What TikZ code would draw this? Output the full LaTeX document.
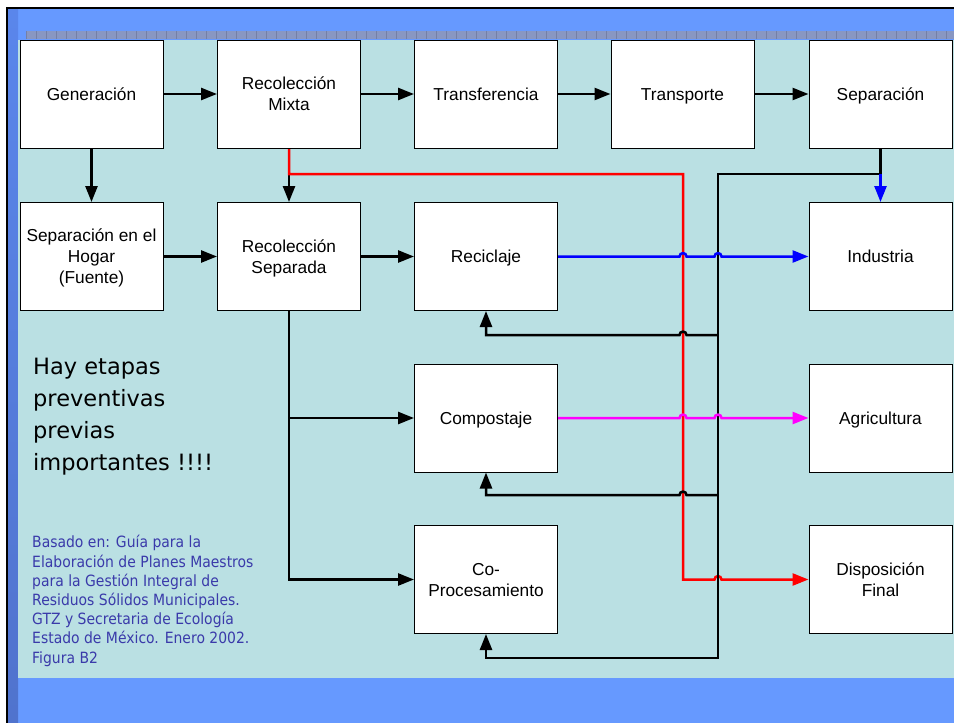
\documentclass[tikz,border=0pt]{standalone}
\usepackage{fontspec}
\setmainfont{Liberation Sans}
\newfontfamily\notafont{DejaVu Sans}
\newfontfamily\fuentefont[FakeStretch=0.9]{DejaVu Sans}
\usepackage{tikz}
\usetikzlibrary{arrows.meta}
\definecolor{slideblue}{RGB}{102,153,255}
\definecolor{panelcyan}{RGB}{186,224,227}
\definecolor{stripgray}{RGB}{137,151,194}
\definecolor{fuenteblue}{RGB}{58,58,170}
\definecolor{compmag}{RGB}{255,0,255}
\definecolor{reclblue}{RGB}{0,0,255}
\definecolor{dispred}{RGB}{255,0,0}
\pgfdeclarelayer{bglayer}
\pgfdeclarelayer{edgelayer}
\pgfdeclarelayer{nodelayer}
\pgfsetlayers{bglayer,edgelayer,nodelayer,main}
\newcommand{\etapastrut}{\rule[-4.3pt]{0pt}{21pt}}
\tikzset{
  etapa/.style={draw=black, line width=1pt, fill=white, minimum width=143pt, minimum height=108pt,
    inner sep=0pt, align=center, font=\fontsize{17.3}{21}\selectfont,
    execute at begin node=\etapastrut, execute at end node=\etapastrut},
  linea/.style={line width=2.5pt},
  flecha/.style={line width=2.5pt, -{Triangle[length=16pt,width=12pt]}},
}
\begin{document}
\begin{tikzpicture}[x=1pt,y=-1pt]
	\useasboundingbox (0,0) rectangle (954,723);
	\begin{pgfonlayer}{bglayer}
		\fill[white] (0,0) rectangle (954,723);
		\fill[slideblue] (6,7) rectangle (954,723);
		\shade[top color={rgb,255:red,90;green,134;blue,235}, middle color={rgb,255:red,58;green,88;blue,170},
			bottom color={rgb,255:red,80;green,115;blue,205}] (8,9) rectangle (18,723);
		\fill[panelcyan] (18,40) rectangle (954,678);
		\fill[stripgray] (26,31) rectangle (954,39);
		\foreach \x in {26,36,...,954}
			\draw[stripgray!85!black, line width=0.6pt] (\x,31) -- (\x,39);
		\draw[line width=2.5pt] (7,723) -- (7,8) -- (954,8);
	\end{pgfonlayer}
	\begin{pgfonlayer}{nodelayer}
		\node [etapa] (gen) at (91.5,94) {Generación};
		\node [etapa] (mix) at (289,94) {\etapastrut Recolección\\Mixta};
		\node [etapa] (trf) at (486,94) {Transferencia};
		\node [etapa] (trp) at (682.5,94) {Transporte};
		\node [etapa] (sep) at (880.5,94) {Separación};
		\node [etapa] (hog) at (91.5,256.5) {\etapastrut Separación en el\\Hogar\\(Fuente)};
		\node [etapa] (rsep) at (289,256.5) {\etapastrut Recolección\\Separada};
		\node [etapa] (rec) at (486,256.5) {Reciclaje};
		\node [etapa] (ind) at (880.5,256.5) {Industria};
		\node [etapa] (comp) at (486,418) {Compostaje};
		\node [etapa] (agr) at (880.5,418) {Agricultura};
		\node [etapa] (copro) at (486,579.5) {\etapastrut Co-\\Procesamiento};
		\node [etapa] (disp) at (880.5,579.5) {\etapastrut Disposición\\Final};
		\node [font=\notafont\fontsize{22.5}{31.7}\selectfont, align=left, anchor=base west, inner sep=0pt]
			(nota) at (33,470) {Hay etapas\\preventivas\\previas\\importantes !!!!};
		\node [font=\fuentefont\fontsize{15.5}{19.2}\selectfont, text=fuenteblue, align=left, anchor=base west, inner sep=0pt]
			(fuente) at (32,663) {Basado en: Guía para la\\Elaboración de Planes Maestros\\para la Gestión Integral de\\Residuos Sólidos Municipales.\\GTZ y Secretaria de Ecología\\Estado de México. Enero 2002.\\Figura B2};
		\coordinate (sepdrop) at (880.5,174);
		\coordinate (bus) at (718,174);
		\coordinate (busend) at (718,658);
		\coordinate (redtop) at (683,174);
		\coordinate (j1) at (718,335);
		\coordinate (j2) at (718,495);
	\end{pgfonlayer}
	\begin{pgfonlayer}{edgelayer}
		% fila superior
		\draw [flecha] (gen) to (mix);
		\draw [flecha] (mix) to (trf);
		\draw [flecha] (trf) to (trp);
		\draw [flecha] (trp) to (sep);
		\draw [flecha] (gen) to (hog);
		\draw [flecha] (mix) to (rsep);
		\draw [flecha] (hog) to (rsep);
		\draw [flecha] (rsep) to (rec);
		\draw [flecha] (rsep.south) |- (comp.west);
		\draw [flecha] (rsep.south) |- (copro.west);
		% mixta a disposicion
		\draw [flecha, dispred] (mix.south) |- (redtop) -- (683,579.5) -- (714.5,579.5)
			.. controls (714.5,575) and (721.5,575) .. (721.5,579.5) -- (disp.west);
		% separacion de vuelta
		\draw [flecha] (sep.south) |- (bus) -- (busend) -| (copro.south);
		\draw [flecha, reclblue] (sepdrop) to (ind.north);
		\draw [flecha] (j1) -- (686.5,335) .. controls (686.5,330.5) and (679.5,330.5) .. (679.5,335) -| (rec.south);
		\draw [flecha] (j2) -- (686.5,495) .. controls (686.5,490.5) and (679.5,490.5) .. (679.5,495) -| (comp.south);
		% productos
		\draw [flecha, reclblue] (rec.east) -- (679.5,256.5) .. controls (679.5,252) and (686.5,252) .. (686.5,256.5)
			-- (714.5,256.5) .. controls (714.5,252) and (721.5,252) .. (721.5,256.5) -- (ind.west);
		\draw [flecha, compmag] (comp.east) -- (679.5,418) .. controls (679.5,413.5) and (686.5,413.5) .. (686.5,418)
			-- (714.5,418) .. controls (714.5,413.5) and (721.5,413.5) .. (721.5,418) -- (agr.west);
	\end{pgfonlayer}
\end{tikzpicture}
\end{document}
